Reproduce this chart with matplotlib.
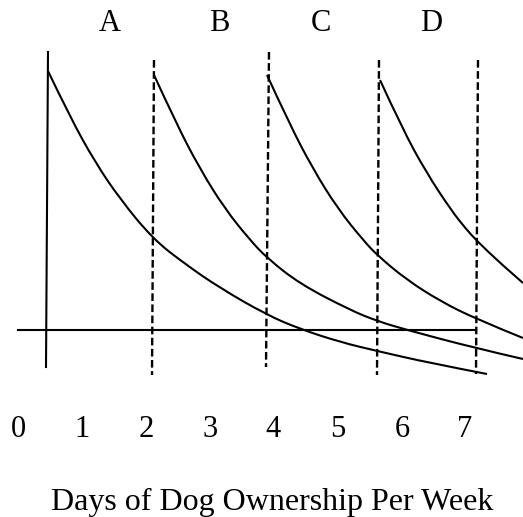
import matplotlib.pyplot as plt
from matplotlib.path import Path
from matplotlib.patches import PathPatch

plt.rcParams['font.family'] = ['Liberation Serif', 'DejaVu Serif']
plt.rcParams['lines.scale_dashes'] = False

# sketch coordinates (x right, y down)
curve_a_x = [48, 70, 95, 120, 153, 185, 220, 267, 300, 340, 377, 430, 487]
curve_a_y = [71, 117, 162, 199, 239, 264, 288, 315, 329, 342, 351, 363, 374]

curve_b_x = [154, 176, 200, 225, 250, 267, 300, 350, 377, 407, 475, 523]
curve_b_y = [75, 123, 169, 209, 240, 258, 284, 310, 321, 330, 348, 359]

curve_c_x = [267, 289, 313, 338, 363, 378, 407, 440, 476, 523]
curve_c_y = [75, 123, 169, 209, 240, 256, 280, 301, 319, 338]

curve_d_x = [380, 402, 426, 451, 466, 477, 500, 523]
curve_d_y = [80, 128, 172, 210, 229, 241, 263, 283]

vert_axis = ([48, 46], [52, 367])
horiz_axis = ([18, 476], [330, 330])

dash_top_x = [154, 269, 379, 478]
dash_top_y = [60, 52, 60, 60]
dash_bot_x = [152, 266, 377, 476]
dash_bot_y = [375, 367, 375, 374]

period_labels = ['A', 'B', 'C', 'D']
period_x = [110, 219, 321, 431]

day_labels = ['0', '1', '2', '3', '4', '5', '6', '7']
day_x = [18, 82, 146, 210, 273, 338, 402, 465]

x_title = 'Days of Dog Ownership Per Week'


def smooth_path(xs, ys):
    # quadratic b-spline through the midpoints, keeps the end points
    pts = list(zip(xs, ys))
    verts = [pts[0]]
    codes = [Path.MOVETO]
    for i in range(1, len(pts) - 1):
        mid = ((pts[i][0] + pts[i + 1][0]) / 2, (pts[i][1] + pts[i + 1][1]) / 2)
        if i == len(pts) - 2:
            mid = pts[-1]
        verts += [pts[i], mid]
        codes += [Path.CURVE3, Path.CURVE3]
    return Path(verts, codes)


def main():
    fig = plt.figure(figsize=(5.23, 5.17), dpi=100)
    ax = fig.add_axes([0, 0, 1, 1])
    ax.set_xlim(0, 523)
    ax.set_ylim(517, 0)
    ax.axis('off')

    lw = 1.5
    ax.plot(*vert_axis, color='black', lw=lw)
    ax.plot(*horiz_axis, color='black', lw=lw)

    for x0, y0, x1, y1 in zip(dash_top_x, dash_top_y, dash_bot_x, dash_bot_y):
        ax.plot([x0, x1], [y0, y1], color='black', lw=1.7,
                linestyle=(0, (5.5, 2.5)))

    for cx, cy in [(curve_a_x, curve_a_y), (curve_b_x, curve_b_y),
                   (curve_c_x, curve_c_y), (curve_d_x, curve_d_y)]:
        ax.add_patch(PathPatch(smooth_path(cx, cy), fill=False,
                               edgecolor='black', lw=lw, clip_on=True))

    for lab, x in zip(period_labels, period_x):
        ax.text(x, 31, lab, fontsize=22, ha='center', va='baseline')

    for lab, x in zip(day_labels, day_x):
        ax.text(x, 437, lab, fontsize=22, ha='center', va='baseline')

    ax.text(272, 510, x_title, fontsize=23, ha='center', va='baseline')

    fig.savefig('out.png', dpi=100)


if __name__ == '__main__':
    main()
